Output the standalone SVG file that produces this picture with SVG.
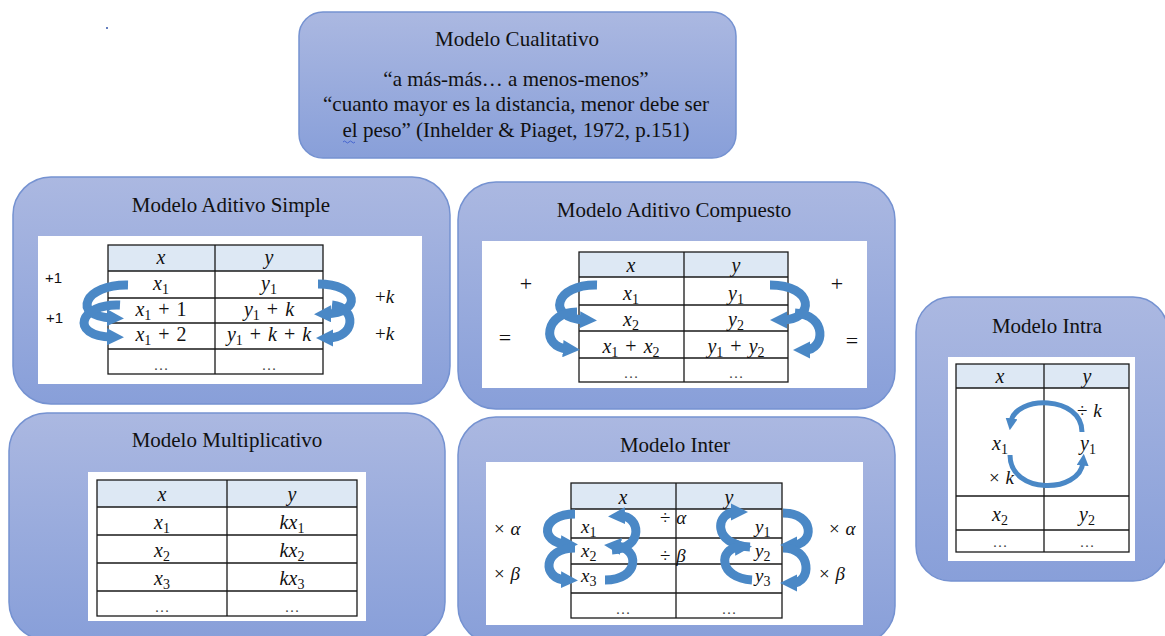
<svg xmlns="http://www.w3.org/2000/svg" width="1165" height="636" viewBox="0 0 1165 636" font-family="Liberation Serif, DejaVu Serif, serif">
<style>
.box{fill:url(#bg);stroke:#7592d1;stroke-width:1.5}
.panel{fill:#fff}
.hdr{fill:#dde8f4}
.grid{fill:none;stroke:#1a1a1a;stroke-width:1.3}
.t{font-size:21px;fill:#111;text-anchor:middle}
.m{font-style:italic;font-size:20px;fill:#111;text-anchor:middle;word-spacing:2px}
.ms{font-style:italic;font-size:19px;fill:#111;word-spacing:1px}
.s{font-style:normal;font-size:14px}
.n{font-style:normal}
.d{font-size:15px;fill:#444;text-anchor:middle}
.sans{font-size:15px;fill:#111}
.op{font-size:22px;fill:#111;text-anchor:middle}
.arr{fill:none;stroke:#4a88c6;stroke-width:9;marker-end:url(#ah)}
.arr2{fill:none;stroke:#4a88c6;stroke-width:5;marker-end:url(#ah2)}
</style>
<defs>
<linearGradient id="bg" x1="0" y1="0" x2="0" y2="1">
<stop offset="0" stop-color="#abb8e1"/>
<stop offset="1" stop-color="#889fd9"/>
</linearGradient>
<marker id="ah" viewBox="0 0 10 10" markerWidth="1.9" markerHeight="1.9" refX="3" refY="5" orient="auto" markerUnits="strokeWidth">
<path d="M0,0 L10,5 L0,10 z" fill="#4a88c6"/>
</marker>
<marker id="ah2" viewBox="0 0 10 10" markerWidth="2.4" markerHeight="2.4" refX="3" refY="5" orient="auto" markerUnits="strokeWidth">
<path d="M0,0 L10,5 L0,10 z" fill="#4a88c6"/>
</marker>
</defs>

<circle cx="107" cy="28" r="1" fill="#3355aa"/>

<g id="n-cualitativo" font-family="Liberation Serif, DejaVu Serif, serif">
<rect class="box" x="299" y="12" width="437" height="146" rx="24"/>
<text class="t" x="517" y="46">Modelo Cualitativo</text>
<text class="t" x="516" y="86">“a más-más… a menos-menos”</text>
<text class="t" x="516" y="111">“cuanto mayor es la distancia, menor debe ser</text>
<text class="t" x="516" y="137">el peso” (Inhelder &amp; Piaget, 1972, p.151)</text>
<path d="M343,142 q1.5,-2 3,0 t3,0 t3,0 t3,0" fill="none" stroke="#3355cc" stroke-width="0.8"/>
</g>

<g id="n-aditivo-simple" font-family="Liberation Serif, DejaVu Serif, serif">
<rect class="box" x="13" y="177" width="437" height="227" rx="38"/>
<text class="t" x="231" y="212">Modelo Aditivo Simple</text>
<rect class="panel" x="38" y="236" width="384" height="148"/>
<rect class="hdr" x="108" y="245" width="215" height="26"/>
<rect class="grid" x="108" y="245" width="215" height="129"/>
<path class="grid" d="M215,245V374M108,271H323M108,298H323M108,323H323M108,349H323"/>
<text class="m" x="161" y="264">x</text>
<text class="m" x="269" y="264">y</text>
<text class="m" x="161" y="290">x<tspan class="s" dy="4">1</tspan></text>
<text class="m" x="269" y="290">y<tspan class="s" dy="4">1</tspan></text>
<text class="m" x="161" y="316">x<tspan class="s" dy="4">1</tspan><tspan class="n" dy="-4"> + 1</tspan></text>
<text class="m" x="269" y="316">y<tspan class="s" dy="4">1</tspan><tspan class="n" dy="-4"> + </tspan>k</text>
<text class="m" x="161" y="341">x<tspan class="s" dy="4">1</tspan><tspan class="n" dy="-4"> + 2</tspan></text>
<text class="m" x="269" y="341">y<tspan class="s" dy="4">1</tspan><tspan class="n" dy="-4"> + </tspan>k<tspan class="n"> + </tspan>k</text>
<text class="d" x="161" y="370">…</text>
<text class="d" x="269" y="370">…</text>
<text class="sans" x="45" y="283" font-family="Liberation Sans, DejaVu Sans, sans-serif">+1</text>
<text class="sans" x="46" y="323" font-family="Liberation Sans, DejaVu Sans, sans-serif">+1</text>
<text class="ms" x="375" y="303"><tspan class="n">+</tspan>k</text>
<text class="ms" x="375" y="340"><tspan class="n">+</tspan>k</text>
<g>
<path class="arr" d="M128,285 C85,284 70,316 112,318"/>
<path class="arr" d="M120,305 C80,303 68,336 112,337"/>
<path class="arr" d="M318,284 C360,284 362,313 326,314"/>
<path class="arr" d="M332,305 C358,308 355,338 328,338"/>
</g>
</g>

<g id="n-aditivo-compuesto" font-family="Liberation Serif, DejaVu Serif, serif">
<rect class="box" x="458" y="182" width="437" height="227" rx="38"/>
<text class="t" x="674" y="217">Modelo Aditivo Compuesto</text>
<rect class="panel" x="482" y="241" width="385" height="147"/>
<rect class="hdr" x="579" y="252" width="209" height="25"/>
<rect class="grid" x="579" y="252" width="209" height="130"/>
<path class="grid" d="M684,252V382M579,277H788M579,305H788M579,331H788M579,358H788"/>
<text class="m" x="631" y="272">x</text>
<text class="m" x="736" y="272">y</text>
<text class="m" x="631" y="300">x<tspan class="s" dy="4">1</tspan></text>
<text class="m" x="736" y="300">y<tspan class="s" dy="4">1</tspan></text>
<text class="m" x="631" y="326">x<tspan class="s" dy="4">2</tspan></text>
<text class="m" x="736" y="326">y<tspan class="s" dy="4">2</tspan></text>
<text class="m" x="631" y="353">x<tspan class="s" dy="4">1</tspan><tspan class="n" dy="-4"> + </tspan>x<tspan class="s" dy="4">2</tspan></text>
<text class="m" x="736" y="353">y<tspan class="s" dy="4">1</tspan><tspan class="n" dy="-4"> + </tspan>y<tspan class="s" dy="4">2</tspan></text>
<text class="d" x="631" y="378">…</text>
<text class="d" x="736" y="378">…</text>
<text class="op" x="526" y="291">+</text>
<text class="op" x="505" y="345">=</text>
<text class="op" x="837" y="291">+</text>
<text class="op" x="852" y="348">=</text>
<g>
<path class="arr" d="M597,285 C555,284 545,318 585,320"/>
<path class="arr" d="M577,312 C545,312 540,347 568,349"/>
<path class="arr" d="M770,285 C815,285 815,320 782,320"/>
<path class="arr" d="M795,313 C828,315 825,350 805,350"/>
</g>
</g>

<g id="n-multiplicativo" font-family="Liberation Serif, DejaVu Serif, serif">
<rect class="box" x="9" y="413" width="436" height="227" rx="38"/>
<text class="t" x="227" y="447">Modelo Multiplicativo</text>
<rect class="panel" x="88" y="472" width="278" height="149"/>
<rect class="hdr" x="97" y="480" width="260" height="27"/>
<rect class="grid" x="97" y="480" width="260" height="136"/>
<path class="grid" d="M227,480V616M97,507H357M97,535H357M97,563H357M97,591H357"/>
<text class="m" x="162" y="501">x</text>
<text class="m" x="292" y="501">y</text>
<text class="m" x="162" y="529">x<tspan class="s" dy="4">1</tspan></text>
<text class="m" x="292" y="529">kx<tspan class="s" dy="4">1</tspan></text>
<text class="m" x="162" y="557">x<tspan class="s" dy="4">2</tspan></text>
<text class="m" x="292" y="557">kx<tspan class="s" dy="4">2</tspan></text>
<text class="m" x="162" y="585">x<tspan class="s" dy="4">3</tspan></text>
<text class="m" x="292" y="585">kx<tspan class="s" dy="4">3</tspan></text>
<text class="d" x="162" y="612">…</text>
<text class="d" x="292" y="612">…</text>
</g>

<g id="n-inter" font-family="Liberation Serif, DejaVu Serif, serif">
<rect class="box" x="458" y="417" width="437" height="227" rx="38"/>
<text class="t" x="675" y="452">Modelo Inter</text>
<rect class="panel" x="486" y="462" width="377" height="163"/>
<rect class="hdr" x="571" y="483" width="211" height="26"/>
<rect class="grid" x="571" y="483" width="211" height="135"/>
<path class="grid" d="M676,483V618M571,509H782M571,538H782M571,564H782M571,593H782"/>
<text class="m" x="623" y="504">x</text>
<text class="m" x="729" y="504">y</text>
<text class="ms" x="581" y="533">x<tspan class="s" dy="4">1</tspan></text>
<text class="ms" x="581" y="557">x<tspan class="s" dy="4">2</tspan></text>
<text class="ms" x="581" y="582">x<tspan class="s" dy="4">3</tspan></text>
<text class="ms" x="755" y="533">y<tspan class="s" dy="4">1</tspan></text>
<text class="ms" x="755" y="557">y<tspan class="s" dy="4">2</tspan></text>
<text class="ms" x="755" y="582">y<tspan class="s" dy="4">3</tspan></text>
<text class="ms" x="660" y="524"><tspan class="n">÷ </tspan>α</text>
<text class="ms" x="660" y="562"><tspan class="n">÷ </tspan>β</text>
<text class="ms" x="494" y="535"><tspan class="n">× </tspan>α</text>
<text class="ms" x="494" y="580"><tspan class="n">× </tspan>β</text>
<text class="ms" x="829" y="535"><tspan class="n">× </tspan>α</text>
<text class="ms" x="819" y="580"><tspan class="n">× </tspan>β</text>
<text class="d" x="623" y="614">…</text>
<text class="d" x="729" y="614">…</text>
<g>
<path class="arr" d="M575,514 C540,514 540,543 566,544"/>
<path class="arr" d="M575,548 C542,548 542,579 566,580"/>
<path class="arr" d="M605,580 C640,580 640,548 616,546"/>
<path class="arr" d="M612,550 C645,548 640,515 620,516"/>
<path class="arr" d="M750,547 C712,545 715,512 736,512"/>
<path class="arr" d="M752,580 C718,578 718,548 740,547"/>
<path class="arr" d="M783,513 C815,513 815,545 792,545"/>
<path class="arr" d="M783,548 C812,548 812,583 792,583"/>
</g>
</g>

<g id="n-intra" font-family="Liberation Serif, DejaVu Serif, serif">
<rect class="box" x="916" y="297" width="252" height="284" rx="35"/>
<text class="t" x="1047" y="333">Modelo Intra</text>
<rect class="panel" x="948" y="357" width="187" height="204"/>
<rect class="hdr" x="956" y="364" width="173" height="24"/>
<rect class="grid" x="956" y="364" width="173" height="188"/>
<path class="grid" d="M1044,364V552M956,388H1129M956,496H1129M956,530H1129"/>
<text class="m" x="1000" y="383">x</text>
<text class="m" x="1087" y="383">y</text>
<text class="m" x="1000" y="450">x<tspan class="s" dy="4">1</tspan></text>
<text class="m" x="1088" y="450">y<tspan class="s" dy="4">1</tspan></text>
<text class="m" x="1000" y="521">x<tspan class="s" dy="4">2</tspan></text>
<text class="m" x="1087" y="521">y<tspan class="s" dy="4">2</tspan></text>
<text class="d" x="1000" y="547">…</text>
<text class="d" x="1087" y="547">…</text>
<text class="ms" x="1077" y="417"><tspan class="n">÷ </tspan>k</text>
<text class="ms" x="989" y="484"><tspan class="n">× </tspan>k</text>
<g>
<path class="arr2" d="M1082,432 C1082,395 1015,395 1011,422"/>
<path class="arr2" d="M1010,455 C1010,495 1080,494 1083,462"/>
</g>
</g>
</svg>
